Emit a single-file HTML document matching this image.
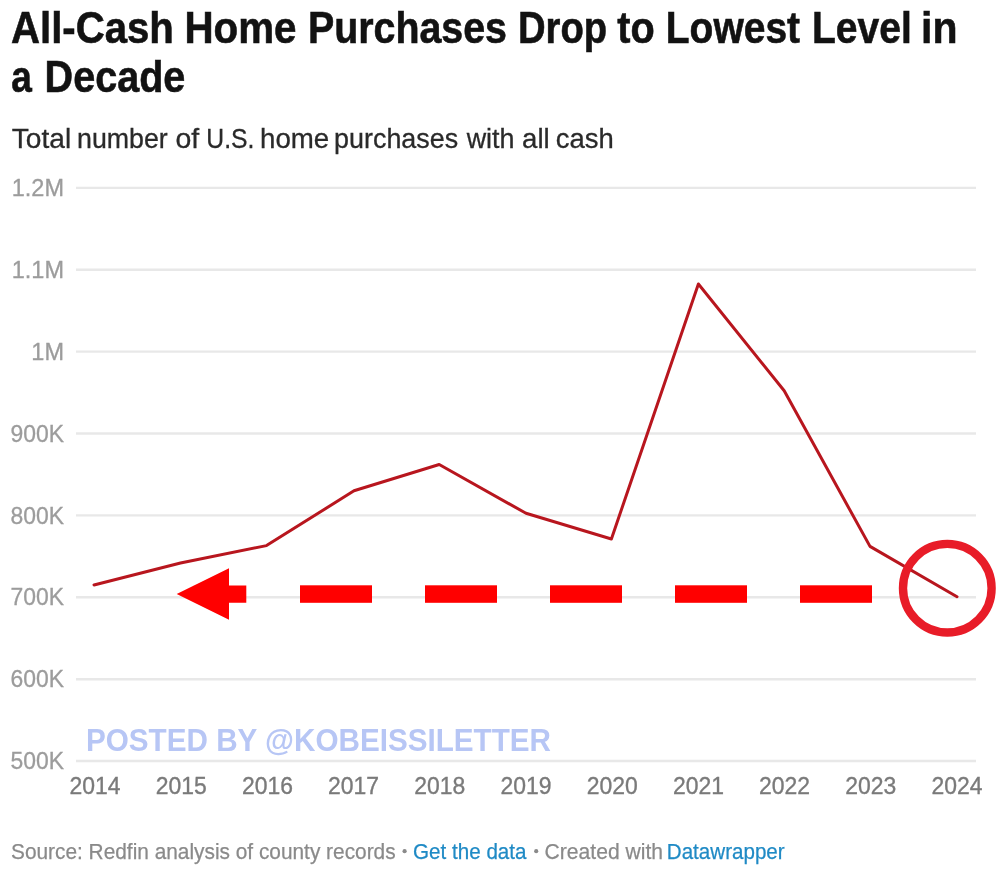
<!DOCTYPE html>
<html>
<head>
<meta charset="utf-8">
<style>
html,body{margin:0;padding:0;background:#fff;width:1003px;height:876px;overflow:hidden;}
svg{display:block;filter:blur(0.55px);}
text{font-family:"Liberation Sans",sans-serif;}
</style>
</head>
<body>
<svg width="1003" height="876" viewBox="0 0 1003 876">
<rect x="0" y="0" width="1003" height="876" fill="#fff"/>
<g font-size="45" font-weight="bold" fill="#121212" stroke="#121212" stroke-width="0.6">
<text x="11.00" y="42.5" textLength="162.89" lengthAdjust="spacingAndGlyphs">All-Cash</text>
<text x="184.40" y="42.5" textLength="112.11" lengthAdjust="spacingAndGlyphs">Home</text>
<text x="307.90" y="42.5" textLength="199.10" lengthAdjust="spacingAndGlyphs">Purchases</text>
<text x="517.90" y="42.5" textLength="89.24" lengthAdjust="spacingAndGlyphs">Drop</text>
<text x="617.30" y="42.5" textLength="37.44" lengthAdjust="spacingAndGlyphs">to</text>
<text x="665.80" y="42.5" textLength="134.30" lengthAdjust="spacingAndGlyphs">Lowest</text>
<text x="811.90" y="42.5" textLength="99.85" lengthAdjust="spacingAndGlyphs">Level</text>
<text x="921.00" y="42.5" textLength="36.44" lengthAdjust="spacingAndGlyphs">in</text>
<text x="11.20" y="92" textLength="20.60" lengthAdjust="spacingAndGlyphs">a</text>
<text x="44.60" y="92" textLength="140.77" lengthAdjust="spacingAndGlyphs">Decade</text>
</g>
<g font-size="27.5" fill="#2a2a2a" stroke="#2a2a2a" stroke-width="0.3">
<text x="11.80" y="147.5" textLength="59.38" lengthAdjust="spacingAndGlyphs">Total</text>
<text x="77.00" y="147.5" textLength="90.78" lengthAdjust="spacingAndGlyphs">number</text>
<text x="175.40" y="147.5" textLength="23.72" lengthAdjust="spacingAndGlyphs">of</text>
<text x="206.30" y="147.5" textLength="48.12" lengthAdjust="spacingAndGlyphs">U.S.</text>
<text x="260.00" y="147.5" textLength="69.25" lengthAdjust="spacingAndGlyphs">home</text>
<text x="334.10" y="147.5" textLength="124.03" lengthAdjust="spacingAndGlyphs">purchases</text>
<text x="466.70" y="147.5" textLength="47.84" lengthAdjust="spacingAndGlyphs">with</text>
<text x="522.10" y="147.5" textLength="27.63" lengthAdjust="spacingAndGlyphs">all</text>
<text x="555.70" y="147.5" textLength="58.02" lengthAdjust="spacingAndGlyphs">cash</text>
</g>
<g stroke="#e8e8e8" stroke-width="2.4">
<line x1="76" y1="187.90" x2="976" y2="187.90"/>
<line x1="76" y1="269.78" x2="976" y2="269.78"/>
<line x1="76" y1="351.66" x2="976" y2="351.66"/>
<line x1="76" y1="433.54" x2="976" y2="433.54"/>
<line x1="76" y1="515.42" x2="976" y2="515.42"/>
<line x1="76" y1="597.30" x2="976" y2="597.30"/>
<line x1="76" y1="679.18" x2="976" y2="679.18"/>
<line x1="76" y1="761.06" x2="976" y2="761.06"/>
</g>
<g font-size="23.5" fill="#9c9c9c" stroke="#9c9c9c" stroke-width="0.3" text-anchor="end">
<text x="64" y="196.00">1.2M</text>
<text x="64" y="277.88">1.1M</text>
<text x="64" y="359.76">1M</text>
<text x="64" y="441.64" textLength="53.5" lengthAdjust="spacingAndGlyphs">900K</text>
<text x="64" y="523.52" textLength="53.5" lengthAdjust="spacingAndGlyphs">800K</text>
<text x="64" y="605.40" textLength="53.5" lengthAdjust="spacingAndGlyphs">700K</text>
<text x="64" y="687.28" textLength="53.5" lengthAdjust="spacingAndGlyphs">600K</text>
<text x="64" y="769.16" textLength="53.5" lengthAdjust="spacingAndGlyphs">500K</text>
</g>
<g font-size="23.5" fill="#7a7a7a" stroke="#7a7a7a" stroke-width="0.35" text-anchor="middle">
<text x="95.0" y="794" textLength="51" lengthAdjust="spacingAndGlyphs">2014</text>
<text x="181.2" y="794" textLength="51" lengthAdjust="spacingAndGlyphs">2015</text>
<text x="267.4" y="794" textLength="51" lengthAdjust="spacingAndGlyphs">2016</text>
<text x="353.6" y="794" textLength="51" lengthAdjust="spacingAndGlyphs">2017</text>
<text x="439.8" y="794" textLength="51" lengthAdjust="spacingAndGlyphs">2018</text>
<text x="526.0" y="794" textLength="51" lengthAdjust="spacingAndGlyphs">2019</text>
<text x="612.2" y="794" textLength="51" lengthAdjust="spacingAndGlyphs">2020</text>
<text x="698.4" y="794" textLength="51" lengthAdjust="spacingAndGlyphs">2021</text>
<text x="784.6" y="794" textLength="51" lengthAdjust="spacingAndGlyphs">2022</text>
<text x="870.8" y="794" textLength="51" lengthAdjust="spacingAndGlyphs">2023</text>
<text x="957.0" y="794" textLength="51" lengthAdjust="spacingAndGlyphs">2024</text>
</g>
<g font-size="32" font-weight="bold" fill="#b7c6f5">
<text x="86.00" y="750.8" textLength="465.01" lengthAdjust="spacingAndGlyphs">POSTED BY @KOBEISSILETTER</text>
</g>
<polyline fill="none" stroke="#b8161e" stroke-width="3" stroke-linejoin="round" stroke-linecap="round" points="94,585 180.5,563 266.5,545.6 354,490.8 439.2,464.5 526,513.3 611.4,539 698.4,284 784.2,390.8 870,546.4 957,596.7"/>
<polygon fill="#ff0000" points="176.7,594 229,568.2 229,585.4 246.3,585.4 246.3,602.7 229,602.7 229,619.8"/>
<g fill="#ff0000">
<rect x="300" y="585.3" width="72" height="17.5"/>
<rect x="425" y="585.3" width="72" height="17.5"/>
<rect x="550" y="585.3" width="72" height="17.5"/>
<rect x="675" y="585.3" width="72" height="17.5"/>
<rect x="800" y="585.3" width="72" height="17.5"/>
</g>
<circle cx="947.3" cy="588.2" r="44.3" fill="none" stroke="#e81c28" stroke-width="8.4"/>
<g font-size="22.5" fill="#8a8a8a" stroke="#8a8a8a" stroke-width="0.25">
<text x="11.00" y="859.3" textLength="384.61" lengthAdjust="spacingAndGlyphs">Source: Redfin analysis of county records</text>
<text x="413.10" y="859.3" textLength="113.42" lengthAdjust="spacingAndGlyphs" fill="#1f8ac5" stroke="#1f8ac5">Get the data</text>
<text x="544.60" y="859.3" textLength="118.42" lengthAdjust="spacingAndGlyphs">Created with</text>
<text x="666.80" y="859.3" textLength="117.86" lengthAdjust="spacingAndGlyphs" fill="#1f8ac5" stroke="#1f8ac5">Datawrapper</text>
<circle cx="404.6" cy="851.2" r="2.1" stroke="none"/>
<circle cx="536.2" cy="851.2" r="2.1" stroke="none"/>
</g>
</svg>
</body>
</html>
